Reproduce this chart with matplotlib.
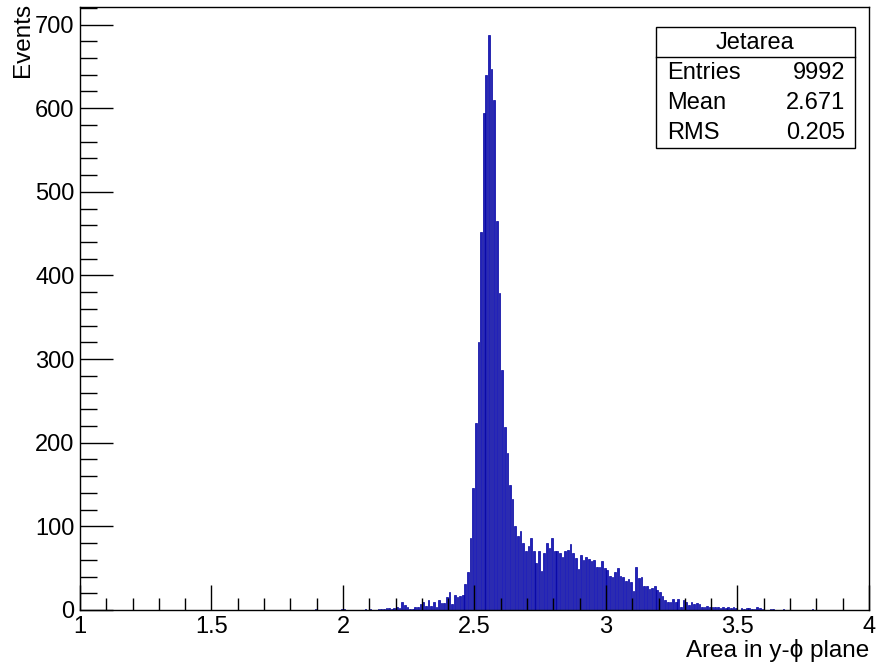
import numpy as np
import matplotlib
matplotlib.use("Agg")
import matplotlib.pyplot as plt
from matplotlib.ticker import MultipleLocator

plt.rcParams['font.family'] = ['Liberation Sans', 'DejaVu Sans']

# Histogram "Jetarea": bin width 0.01 between 1 and 4; low edges of non-empty bins
bin_width = 0.01
bin_low = [1.89, 1.99, 2.00, 2.08, 2.10,
           2.13, 2.14, 2.15, 2.16, 2.17, 2.18, 2.19, 2.20, 2.21, 2.22, 2.23, 2.24, 2.25,
           2.26, 2.27, 2.28, 2.29, 2.30, 2.31, 2.32, 2.33, 2.34, 2.35, 2.36, 2.37, 2.38,
           2.39, 2.40, 2.41, 2.42, 2.43, 2.44, 2.45, 2.46, 2.47, 2.48, 2.49,
           2.50, 2.51, 2.52, 2.53, 2.54, 2.55, 2.56, 2.57, 2.58, 2.59, 2.60, 2.61, 2.62,
           2.63, 2.64, 2.65, 2.66, 2.67, 2.68, 2.69, 2.70, 2.71, 2.72, 2.73, 2.74, 2.75,
           2.76, 2.77, 2.78, 2.79, 2.80, 2.81, 2.82, 2.83, 2.84, 2.85, 2.86, 2.87, 2.88, 2.89,
           2.90, 2.91, 2.92, 2.93, 2.94, 2.95, 2.96, 2.97, 2.98, 2.99, 3.00, 3.01, 3.02,
           3.03, 3.04, 3.05, 3.06, 3.07, 3.08, 3.09, 3.10, 3.11, 3.12, 3.13, 3.14, 3.15,
           3.16, 3.17, 3.18, 3.19, 3.20, 3.21, 3.22, 3.23, 3.24, 3.25, 3.26, 3.27, 3.28,
           3.29, 3.30, 3.31, 3.32, 3.33, 3.34, 3.35, 3.36, 3.37, 3.38, 3.39,
           3.40, 3.41, 3.42, 3.43, 3.44, 3.45, 3.46, 3.47, 3.48, 3.49, 3.51, 3.52, 3.53,
           3.54, 3.55, 3.56, 3.57, 3.58, 3.59, 3.62, 3.63, 3.67, 3.78]
events = [1, 1, 1, 1, 1,
          1, 1, 1, 2, 2, 1, 2, 3, 2, 9, 6, 4, 1,
          1, 4, 4, 7, 9, 5, 12, 5, 9, 4, 12, 8, 8,
          16, 21, 7, 18, 15, 17, 18, 31, 46, 86, 146,
          224, 321, 452, 594, 640, 687, 647, 610, 465, 379, 287, 219, 188,
          149, 133, 100, 88, 94, 80, 70, 76, 86, 70, 56, 70, 47,
          68, 80, 74, 86, 70, 70, 68, 63, 70, 72, 79, 68, 62, 49,
          66, 60, 63, 61, 58, 60, 52, 52, 58, 50, 48, 41, 39,
          45, 50, 41, 40, 35, 37, 33, 23, 51, 38, 39, 29, 29,
          25, 26, 29, 24, 21, 17, 12, 10, 10, 13, 9, 13, 3,
          12, 9, 6, 10, 7, 8, 7, 3, 4, 5, 3,
          4, 3, 4, 2, 3, 2, 3, 2, 3, 2, 2, 1, 2,
          2, 1, 1, 4, 2, 1, 1, 1, 1, 1]

stats_title = "Jetarea"
stats_labels = ["Entries", "Mean", "RMS"]
stats_values = ["9992", "2.671", "0.205"]

FS = 17

fig = plt.figure(figsize=(8.77, 6.69), dpi=100)
ax = fig.add_axes([80/877, 1 - 610/669, (869-80)/877, (610-7)/669])

centers = np.array(bin_low) + bin_width / 2
ax.bar(centers, events, width=bin_width * 0.65, color='#2222b8',
       edgecolor='#0000a0', linewidth=0.5, align='center')

ax.set_xlim(1, 4)
ax.set_ylim(0, 721)

ax.xaxis.set_major_locator(MultipleLocator(0.5))
ax.xaxis.set_minor_locator(MultipleLocator(0.1))
ax.yaxis.set_major_locator(MultipleLocator(100))
ax.yaxis.set_minor_locator(MultipleLocator(20))
ax.tick_params(axis='both', which='both', direction='in', top=False, right=False,
               labelsize=FS, color='black', width=1.0)
ax.tick_params(axis='x', which='major', length=18, pad=4)
ax.tick_params(axis='x', which='minor', length=9)
ax.tick_params(axis='y', which='major', length=24, pad=4)
ax.tick_params(axis='y', which='minor', length=12)
ax.set_xticks([1, 1.5, 2, 2.5, 3, 3.5, 4])
ax.set_xticklabels(["1", "1.5", "2", "2.5", "3", "3.5", "4"])
for s in ax.spines.values():
    s.set_linewidth(1.0)
    s.set_color('black')

fig.text(869/877, 1 - 651/669, "Area in y-\u03d5 plane", ha='right', va='center', fontsize=17.5)
fig.text(23/877, 1 - 3/669, "Events", ha='center', va='top', rotation=90, fontsize=17.5)

# statistics box
bx0, bx1 = 656/877, 855/877
by0, by1 = 1 - 148/669, 1 - 27/669
sep = 1 - 57/669
fig.patches.append(plt.Rectangle((bx0, by0), bx1 - bx0, by1 - by0, transform=fig.transFigure,
                                 facecolor='white', edgecolor='black', linewidth=1.0, zorder=5))
fig.add_artist(plt.Line2D([bx0, bx1], [sep, sep], transform=fig.transFigure, color='black',
                          linewidth=1.0, zorder=6))
fig.text((bx0 + bx1) / 2, 1 - 43/669, stats_title, ha='center', va='center', fontsize=FS, zorder=7)
rows_y = [73, 103, 133]
for lab, val, yy in zip(stats_labels, stats_values, rows_y):
    fig.text(667/877, 1 - yy/669, lab, ha='left', va='center', fontsize=FS, zorder=7)
    fig.text(845/877, 1 - yy/669, val, ha='right', va='center', fontsize=FS, zorder=7)

fig.savefig("out.png", dpi=100)
